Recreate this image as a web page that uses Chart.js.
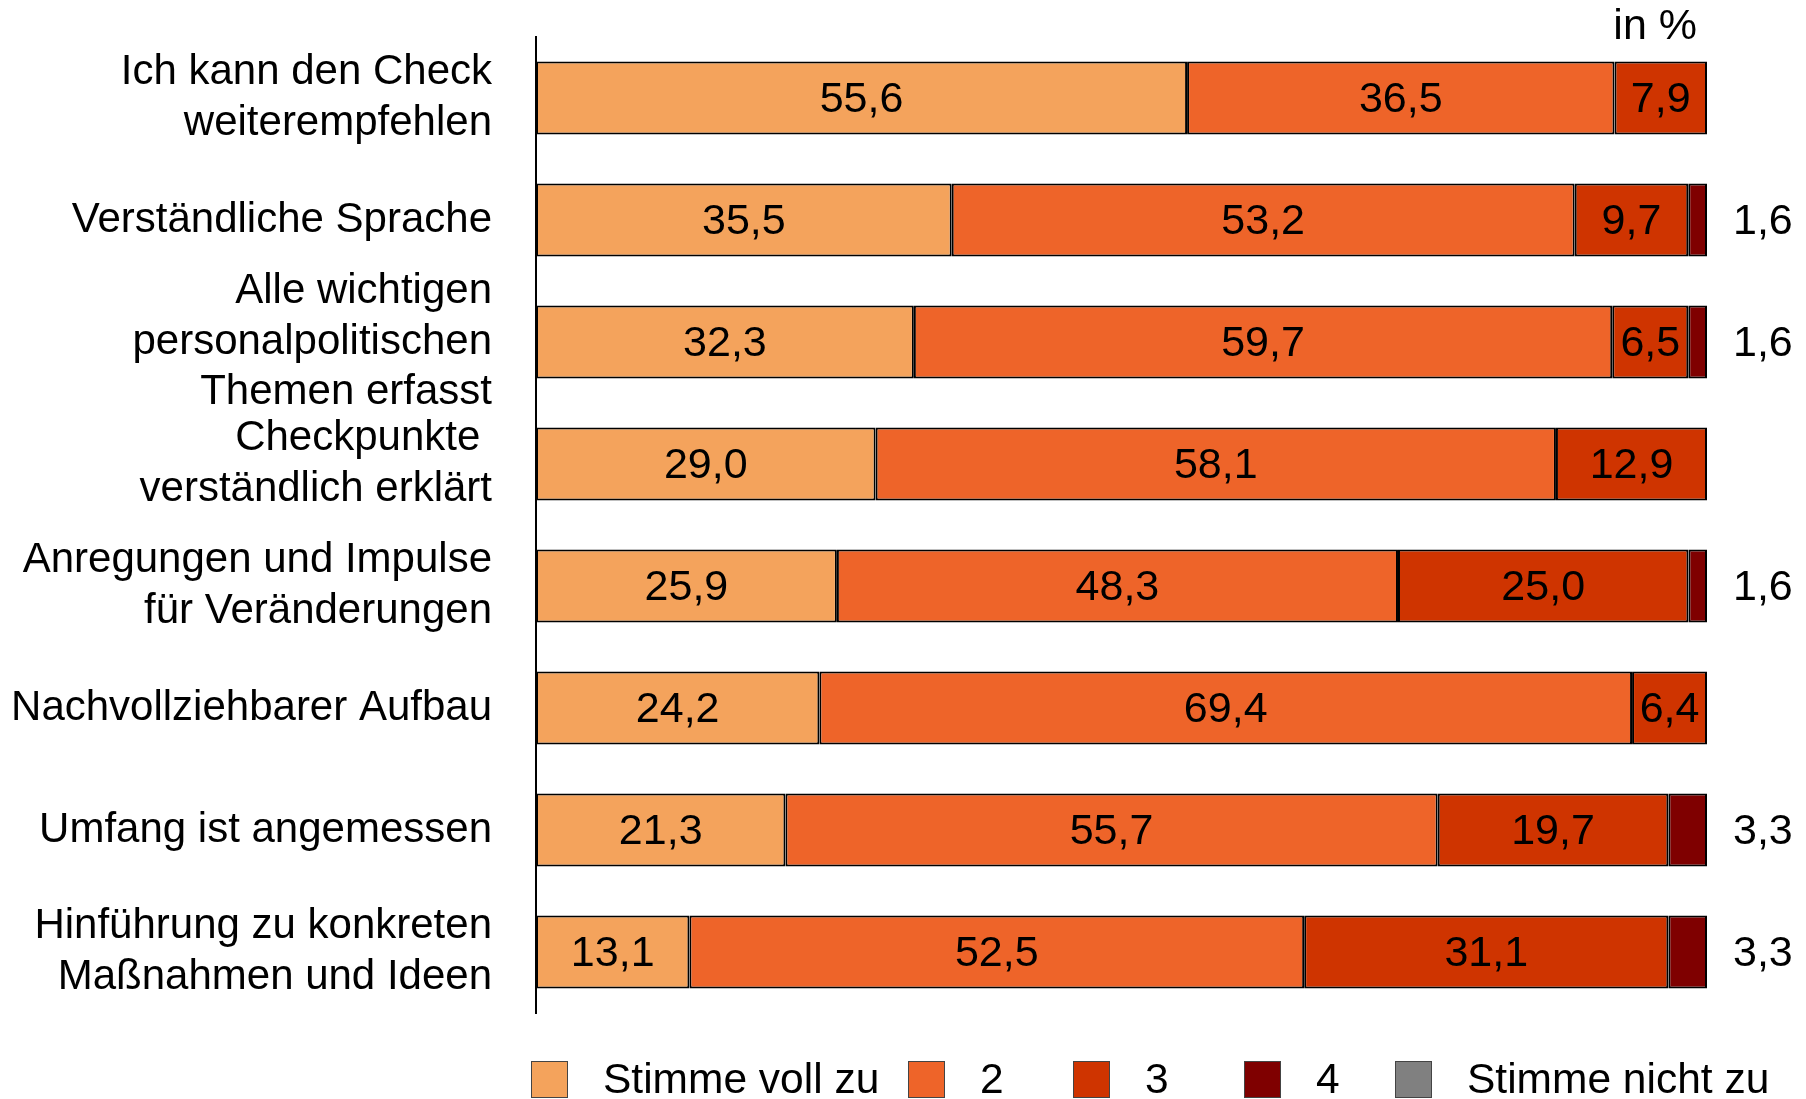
<!DOCTYPE html>
<html>
<head>
<meta charset="utf-8">
<script src="https://cdn.jsdelivr.net/npm/chart.js@4"></script>
<style>
  body { margin: 0; background: #fff; }
  #wrap { width: 1806px; height: 1099px; position: relative; }
</style>
</head>
<body>
<div id="wrap"><canvas id="chart"></canvas></div>
<script>
const categories = [
    ['Ich kann den Check', 'weiterempfehlen'],
    'Verständliche Sprache',
    ['Alle wichtigen', 'personalpolitischen', 'Themen erfasst'],
    ['Checkpunkte ', 'verständlich erklärt'],
    ['Anregungen und Impulse', 'für Veränderungen'],
    'Nachvollziehbarer Aufbau',
    'Umfang ist angemessen',
    ['Hinführung zu konkreten', 'Maßnahmen und Ideen']
];
const seriesNames = ['Stimme voll zu', '2', '3', '4', 'Stimme nicht zu'];
const voll  = [55.6, 35.5, 32.3, 29.0, 25.9, 24.2, 21.3, 13.1];
const zwei  = [36.5, 53.2, 59.7, 58.1, 48.3, 69.4, 55.7, 52.5];
const drei  = [7.9, 9.7, 6.5, 12.9, 25.0, 6.4, 19.7, 31.1];
const vier  = [0, 1.6, 1.6, 0, 1.6, 0, 3.3, 3.3];
const nicht = [0, 0, 0, 0, 0, 0, 0, 0];
const colors = ['#F4A35C', '#EE6429', '#CF3400', '#7F0000', '#808080'];

const FONT = '"Liberation Sans", Arial, sans-serif';
const fmt = v => v.toFixed(1).replace('.', ',');

const series = [voll, zwei, drei, vier, nicht];
// rows are drawn scaled to a full 100 % bar (some rows add up to slightly over 100)
const rowSums = categories.map((_, j) => series.reduce((s, arr) => s + arr[j], 0));

const valueLabels = {
    id: 'valueLabels',
    afterDatasetsDraw(chart) {
        const ctx = chart.ctx;
        ctx.save();
        ctx.font = '43px ' + FONT;
        ctx.fillStyle = '#000';
        ctx.textBaseline = 'middle';
        series.forEach((arr, i) => {
            chart.getDatasetMeta(i).data.forEach((bar, j) => {
                const v = arr[j];
                if (!v) return;
                if (i < 3) {
                    ctx.textAlign = 'center';
                    ctx.fillText(fmt(v), (bar.base + bar.x) / 2, bar.y + 2);
                } else {
                    ctx.textAlign = 'left';
                    ctx.fillText(fmt(v), chart.chartArea.right + 26, bar.y + 2);
                }
            });
        });
        // unit note
        ctx.textAlign = 'right';
        ctx.fillText('in %', chart.chartArea.right - 10, 27);

        // legend
        const lx = [531, 908, 1073, 1244, 1395];
        ctx.font = '42.5px ' + FONT;
        ctx.textAlign = 'left';
        chart.data.datasets.forEach((ds, i) => {
            ctx.fillStyle = ds.backgroundColor;
            ctx.fillRect(lx[i], 1061, 37, 37);
            ctx.strokeStyle = '#444';
            ctx.lineWidth = 1;
            ctx.strokeRect(lx[i] + 0.5, 1061.5, 36, 36);
            ctx.fillStyle = '#000';
            ctx.fillText(ds.label, lx[i] + 72, 1081);
        });
        ctx.restore();
    }
};

new Chart(document.getElementById('chart'), {
    type: 'bar',
    data: {
        labels: categories,
        datasets: series.map((arr, i) => ({
            label: seriesNames[i],
            data: arr.map((v, j) => v ? v / rowSums[j] * 100 : null),
            backgroundColor: colors[i],
            borderColor: '#000',
            borderWidth: 2,
            borderSkipped: false,
            categoryPercentage: 1,
            barPercentage: 0.6
        }))
    },
    options: {
        indexAxis: 'y',
        responsive: true,
        maintainAspectRatio: false,
        animation: false,
        layout: { padding: { top: 37, bottom: 86, right: 99, left: 0 } },
        plugins: {
            legend: { display: false },
            tooltip: { enabled: false }
        },
        scales: {
            x: {
                stacked: true,
                display: false,
                min: 0,
                max: 100
            },
            y: {
                stacked: true,
                grid: { display: false, drawTicks: false },
                border: { display: true, color: '#000', width: 2 },
                ticks: {
                    color: '#000',
                    padding: 44,
                    autoSkip: false,
                    font: { family: FONT, size: 42, lineHeight: 1.2 }
                },
                afterFit(scale) {
                    scale.width = 536;
                    scale.paddingTop = 0;
                    scale.paddingBottom = 0;
                }
            }
        }
    },
    plugins: [valueLabels]
});
</script>
</body>
</html>
